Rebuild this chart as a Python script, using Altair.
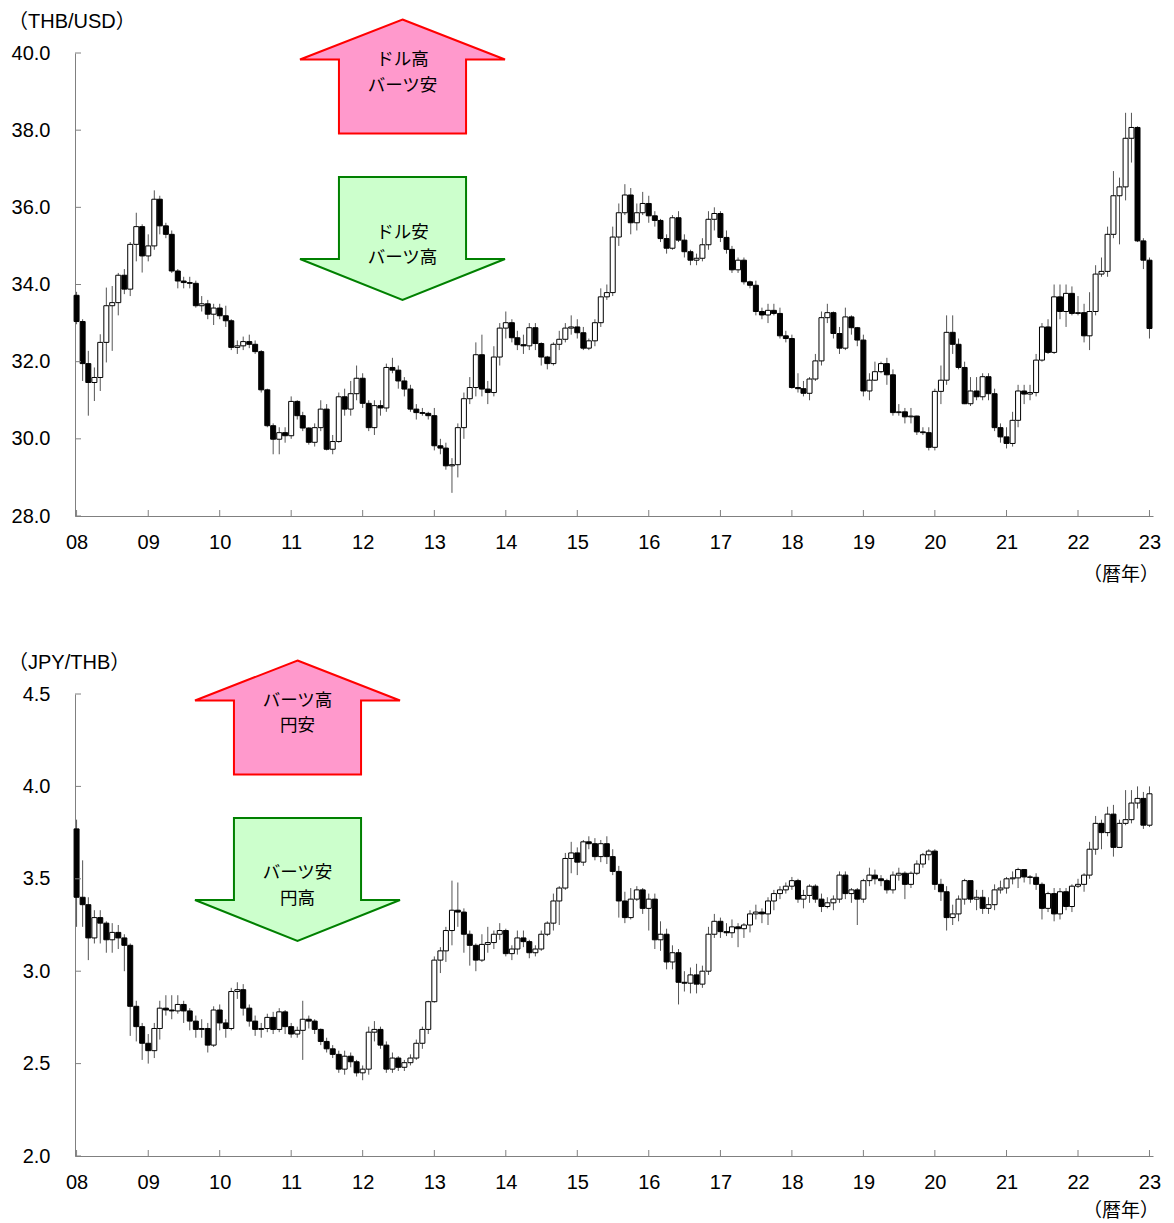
import altair as alt
import pandas as pd

# ---------------- data (monthly candles, Jan 2008 - Jan 2023) ----------------
YEARS = list(range(2008, 2024))

THB_OPEN0 = 33.72
THB_CLOSE = [
    33.04, 31.95, 31.46, 31.59, 32.50, 33.45, 33.53, 34.24, 33.88, 35.04, 35.50, 34.74,
    35.00, 36.21, 35.52, 35.30, 34.35, 34.09, 34.05, 34.03, 33.45, 33.50, 33.23, 33.39,
    33.19, 33.06, 32.37, 32.41, 32.52, 32.45, 32.26, 31.27, 30.34, 29.99, 30.16, 30.08,
    30.97, 30.60, 30.28, 29.91, 30.29, 30.77, 29.73, 29.93, 31.09, 30.77, 31.17, 31.57,
    30.92, 30.29, 30.86, 30.80, 31.85, 31.78, 31.50, 31.29, 30.77, 30.68, 30.66, 30.60,
    29.82, 29.76, 29.30, 29.33, 30.29, 31.04, 31.33, 32.18, 31.29, 31.20, 32.12, 32.87,
    33.01, 32.62, 32.44, 32.41, 32.88, 32.47, 32.12, 31.95, 32.45, 32.58, 32.87, 32.90,
    32.75, 32.35, 32.54, 33.01, 33.68, 33.79, 35.23, 35.86, 36.32, 35.60, 35.86, 36.10,
    35.78, 35.66, 35.19, 34.94, 35.73, 35.15, 34.85, 34.63, 34.68, 35.03, 35.69, 35.84,
    35.22, 34.91, 34.38, 34.63, 34.07, 33.98, 33.30, 33.21, 33.33, 33.25, 32.67, 32.60,
    31.33, 31.30, 31.18, 31.55, 32.02, 33.14, 33.27, 32.73, 32.35, 33.16, 32.88, 32.56,
    31.24, 31.52, 31.74, 31.95, 31.66, 30.68, 30.70, 30.57, 30.59, 30.18, 30.16, 29.78,
    31.23, 31.52, 32.76, 32.45, 31.85, 30.91, 31.24, 31.09, 31.61, 31.17, 30.29, 30.05,
    29.88, 30.48, 31.24, 31.16, 31.20, 32.04, 32.90, 32.24, 33.68, 33.30, 33.77, 33.25,
    33.27, 32.67, 33.30, 34.27, 34.34, 35.30, 36.30, 36.53, 37.79, 38.07, 35.13, 34.63,
    32.86,
]
THB_HIGH = [
    33.81, 33.10, 32.28, 31.85, 32.71, 33.92, 33.96, 34.30, 34.40, 35.10, 35.86, 35.56,
    35.30, 36.44, 36.30, 35.60, 35.40, 34.40, 34.20, 34.20, 34.10, 33.70, 33.60, 33.50,
    33.50, 33.45, 33.10, 32.55, 32.65, 32.70, 32.55, 32.30, 31.30, 30.40, 30.30, 30.30,
    31.10, 31.00, 30.70, 30.30, 30.40, 31.00, 30.90, 30.10, 31.20, 31.30, 31.50, 31.90,
    31.70, 31.00, 31.00, 31.00, 31.95, 32.10, 31.90, 31.60, 31.40, 30.90, 30.80, 30.70,
    30.80, 30.00, 29.90, 29.50, 30.40, 31.20, 31.60, 32.50, 32.70, 31.50, 32.40, 33.00,
    33.30, 33.10, 32.80, 32.70, 33.00, 33.00, 32.50, 32.15, 32.50, 32.80, 33.00, 33.20,
    33.10, 32.90, 32.60, 33.10, 33.90, 34.00, 35.50, 36.10, 36.60, 36.50, 36.10, 36.40,
    36.30, 35.90, 35.70, 35.30, 35.80, 35.90, 35.30, 34.90, 34.80, 35.20, 35.90, 36.00,
    35.90, 35.40, 35.00, 34.70, 34.70, 34.10, 34.10, 33.40, 33.50, 33.50, 33.40, 32.80,
    32.70, 31.70, 31.50, 31.60, 32.20, 33.30, 33.50, 33.30, 32.90, 33.40, 33.20, 32.90,
    32.70, 31.70, 32.00, 32.00, 32.10, 31.80, 30.90, 30.80, 30.80, 30.60, 30.30, 30.30,
    31.30, 31.90, 33.20, 33.20, 32.60, 32.00, 31.60, 31.60, 31.70, 31.70, 31.30, 30.40,
    30.30, 30.70, 31.40, 31.40, 31.40, 32.20, 33.00, 33.10, 34.00, 34.00, 34.00, 33.95,
    33.70, 33.50, 33.80, 34.50, 34.70, 35.50, 36.94, 36.77, 38.45, 38.45, 38.10, 35.20,
    34.70,
]
THB_LOW = [
    32.97, 31.50, 30.60, 30.98, 31.24, 31.98, 32.28, 33.20, 33.75, 33.70, 34.60, 34.31,
    34.60, 34.90, 35.30, 35.20, 34.30, 33.90, 33.90, 33.90, 33.40, 33.30, 33.10, 32.95,
    33.10, 32.90, 32.30, 32.20, 32.30, 32.35, 32.20, 31.20, 30.30, 29.60, 29.60, 29.90,
    30.00, 30.50, 30.20, 29.85, 29.80, 30.20, 29.70, 29.60, 29.90, 30.60, 30.60, 31.00,
    30.80, 30.20, 30.10, 30.60, 30.70, 31.70, 31.30, 31.10, 30.70, 30.50, 30.60, 30.50,
    29.70, 29.60, 29.20, 28.60, 29.00, 30.00, 30.90, 31.10, 31.10, 30.90, 31.10, 31.90,
    32.60, 32.50, 32.30, 32.20, 32.30, 32.30, 31.90, 31.80, 31.90, 32.30, 32.50, 32.70,
    32.60, 32.30, 32.30, 32.40, 32.90, 33.60, 33.70, 35.00, 35.80, 35.30, 35.40, 35.80,
    35.60, 35.50, 35.10, 34.80, 34.90, 35.10, 34.70, 34.50, 34.50, 34.60, 34.90, 35.40,
    35.10, 34.80, 34.30, 34.30, 34.00, 33.90, 33.20, 33.10, 33.00, 33.20, 32.60, 32.50,
    31.30, 31.20, 31.10, 31.00, 31.50, 31.90, 33.00, 32.60, 32.20, 32.30, 32.70, 32.40,
    31.10, 31.00, 31.50, 31.70, 31.40, 30.60, 30.60, 30.40, 30.40, 30.10, 30.10, 29.70,
    29.70, 30.90, 31.40, 32.20, 31.80, 30.90, 30.85, 31.00, 31.00, 31.00, 30.20, 29.90,
    29.75, 29.80, 30.30, 30.90, 31.00, 31.10, 32.00, 32.20, 32.20, 33.10, 32.90, 33.20,
    33.20, 32.50, 32.30, 33.20, 34.20, 34.20, 35.20, 35.04, 36.18, 37.16, 35.10, 34.40,
    32.60,
]

JPY_OPEN0 = 3.77
JPY_CLOSE = [
    3.40, 3.36, 3.18, 3.29, 3.26, 3.17, 3.21, 3.18, 3.14, 2.81, 2.70, 2.61,
    2.57, 2.69, 2.80, 2.79, 2.785, 2.82, 2.785, 2.73, 2.685, 2.69, 2.60, 2.79,
    2.72, 2.69, 2.89, 2.90, 2.80, 2.73, 2.685, 2.69, 2.75, 2.685, 2.78, 2.70,
    2.66, 2.68, 2.74, 2.73, 2.685, 2.62, 2.58, 2.55, 2.47, 2.54, 2.51, 2.45,
    2.47, 2.67, 2.685, 2.60, 2.47, 2.53, 2.48, 2.505, 2.53, 2.61, 2.685, 2.835,
    3.06, 3.11, 3.22, 3.33, 3.32, 3.20, 3.14, 3.06, 3.145, 3.155, 3.20, 3.22,
    3.095, 3.12, 3.18, 3.16, 3.10, 3.12, 3.20, 3.26, 3.38, 3.45, 3.61, 3.64,
    3.59, 3.70, 3.69, 3.62, 3.69, 3.62, 3.54, 3.38, 3.29, 3.39, 3.44, 3.34,
    3.39, 3.17, 3.20, 3.05, 3.10, 2.94, 2.935, 2.98, 2.93, 3.00, 3.20, 3.27,
    3.214, 3.208, 3.24, 3.23, 3.25, 3.31, 3.32, 3.31, 3.38, 3.42, 3.44, 3.46,
    3.49, 3.39, 3.41, 3.46, 3.39, 3.35, 3.37, 3.39, 3.52, 3.42, 3.44, 3.39,
    3.49, 3.52, 3.50, 3.49, 3.44, 3.52, 3.53, 3.47, 3.53, 3.58, 3.63, 3.65,
    3.47, 3.43, 3.29, 3.31, 3.39, 3.49, 3.39, 3.40, 3.34, 3.36, 3.44, 3.45,
    3.50, 3.505, 3.55, 3.51, 3.508, 3.47, 3.34, 3.42, 3.31, 3.43, 3.35, 3.46,
    3.47, 3.52, 3.66, 3.80, 3.75, 3.85, 3.67, 3.80, 3.82, 3.91, 3.935, 3.79,
    3.96,
]
JPY_HIGH = [
    3.82, 3.60, 3.40, 3.33, 3.33, 3.27, 3.26, 3.25, 3.20, 3.15, 2.84, 2.72,
    2.66, 2.72, 2.84, 2.87, 2.87, 2.87, 2.84, 2.80, 2.76, 2.74, 2.72, 2.81,
    2.82, 2.74, 2.91, 2.94, 2.93, 2.82, 2.76, 2.72, 2.77, 2.78, 2.80, 2.79,
    2.72, 2.70, 2.84, 2.76, 2.74, 2.69, 2.64, 2.60, 2.57, 2.57, 2.56, 2.52,
    2.49, 2.70, 2.73, 2.70, 2.62, 2.56, 2.54, 2.52, 2.55, 2.63, 2.70, 2.84,
    3.08, 3.13, 3.24, 3.49, 3.48, 3.34, 3.22, 3.15, 3.20, 3.24, 3.22, 3.26,
    3.23, 3.14, 3.22, 3.22, 3.17, 3.14, 3.22, 3.27, 3.42, 3.46, 3.64, 3.70,
    3.67, 3.71, 3.73, 3.72, 3.71, 3.73, 3.66, 3.57, 3.43, 3.45, 3.46, 3.45,
    3.42, 3.42, 3.27, 3.23, 3.14, 3.12, 3.00, 3.02, 3.04, 3.03, 3.24, 3.31,
    3.29, 3.26, 3.28, 3.26, 3.26, 3.33, 3.36, 3.34, 3.40, 3.44, 3.46, 3.48,
    3.51, 3.50, 3.44, 3.47, 3.47, 3.42, 3.40, 3.41, 3.54, 3.54, 3.45, 3.45,
    3.50, 3.56, 3.55, 3.52, 3.50, 3.54, 3.56, 3.54, 3.54, 3.60, 3.64, 3.66,
    3.66, 3.50, 3.46, 3.36, 3.41, 3.50, 3.49, 3.44, 3.44, 3.40, 3.47, 3.49,
    3.51, 3.54, 3.56, 3.55, 3.52, 3.53, 3.48, 3.43, 3.45, 3.45, 3.45, 3.47,
    3.50, 3.53, 3.70, 3.84, 3.82, 3.89, 3.90, 3.82, 3.98, 3.98, 4.00, 3.97,
    4.00,
]
JPY_LOW = [
    3.24, 3.24, 3.06, 3.15, 3.15, 3.10, 3.10, 3.12, 3.00, 2.65, 2.62, 2.52,
    2.50, 2.53, 2.63, 2.76, 2.74, 2.77, 2.72, 2.68, 2.64, 2.64, 2.56, 2.59,
    2.68, 2.64, 2.68, 2.85, 2.76, 2.70, 2.65, 2.64, 2.67, 2.66, 2.67, 2.66,
    2.64, 2.64, 2.52, 2.69, 2.66, 2.60, 2.56, 2.53, 2.45, 2.44, 2.48, 2.43,
    2.41, 2.44, 2.62, 2.58, 2.45, 2.45, 2.46, 2.46, 2.49, 2.52, 2.58, 2.66,
    2.83, 2.99, 3.05, 3.14, 3.24, 3.10, 3.03, 3.00, 3.05, 3.10, 3.12, 3.17,
    3.08, 3.06, 3.09, 3.13, 3.07, 3.08, 3.11, 3.19, 3.22, 3.25, 3.44, 3.53,
    3.52, 3.57, 3.66, 3.60, 3.59, 3.58, 3.52, 3.29, 3.26, 3.28, 3.38, 3.31,
    3.22, 3.12, 3.11, 3.01, 3.01, 2.82, 2.89, 2.88, 2.88, 2.91, 2.98, 3.18,
    3.18, 3.19, 3.18, 3.13, 3.18, 3.21, 3.28, 3.26, 3.25, 3.33, 3.39, 3.42,
    3.44, 3.37, 3.34, 3.37, 3.37, 3.32, 3.34, 3.33, 3.37, 3.39, 3.37, 3.25,
    3.37, 3.46, 3.47, 3.46, 3.42, 3.42, 3.49, 3.39, 3.45, 3.52, 3.56, 3.60,
    3.44, 3.38, 3.22, 3.25, 3.27, 3.36, 3.37, 3.33, 3.31, 3.31, 3.33, 3.42,
    3.42, 3.47, 3.45, 3.48, 3.47, 3.44, 3.28, 3.32, 3.27, 3.28, 3.33, 3.32,
    3.45, 3.43, 3.50, 3.63, 3.66, 3.73, 3.62, 3.67, 3.79, 3.80, 3.88, 3.77,
    3.78,
]

THB_TICKS = [28.0, 30.0, 32.0, 34.0, 36.0, 38.0, 40.0]
JPY_TICKS = [2.0, 2.5, 3.0, 3.5, 4.0, 4.5]

MONTHS = pd.date_range("2008-01-01", periods=181, freq="MS")

LATIN = "Liberation Sans"
JP = "Noto Sans CJK JP"
MIX = "Liberation Sans, Noto Sans CJK JP"
W = 1078

UP_PATH = "M 0 -0.556 L 1 -0.166 L 0.62 -0.166 L 0.62 0.556 L -0.62 0.556 L -0.62 -0.166 L -1 -0.166 Z"
DOWN_PATH = "M -0.62 -0.6 L 0.62 -0.6 L 0.62 0.2 L 1 0.2 L 0 0.6 L -1 0.2 L -0.62 0.2 Z"


def candle_frame(open0, closes, highs, lows):
    n = min(len(closes), len(highs), len(lows), len(MONTHS))
    opens = [open0] + list(closes[: n - 1])
    return pd.DataFrame({
        "date": MONTHS[:n],
        "open": opens,
        "close": list(closes[:n]),
        "high": list(highs[:n]),
        "low": list(lows[:n]),
    })


def panel(df, domain, ticks, H, unit_label, arrow_x, up_lines, down_lines, unit_y,
          up_text_y, down_text_y):
    one = pd.DataFrame({"k": [0]})
    xscale = alt.Scale(domain=[alt.DateTime(year=2007, month=12, date=24),
                               alt.DateTime(year=2023, month=1, date=19)], padding=0)
    xaxis = alt.Axis(values=[alt.DateTime(year=y, month=1, date=1) for y in YEARS],
                     format="%y", title=None, ticks=False, tickSize=0, labelPadding=16,
                     labelFontSize=20, labelFont=LATIN, labelColor="black",
                     domainColor="#808080", grid=False, labelAngle=0)
    yscale = alt.Scale(domain=domain, nice=False, zero=False)
    yaxis = alt.Axis(values=ticks, format=".1f", title=None, ticks=False, tickSize=0,
                     labelPadding=25, labelFontSize=20, labelFont=LATIN, labelColor="black",
                     domainColor="#808080", grid=False)

    base = alt.Chart(df)
    wick = base.mark_rule(color="#555555", strokeWidth=1).encode(
        x=alt.X("date:T", scale=xscale, axis=xaxis),
        y=alt.Y("low:Q", scale=yscale, axis=yaxis),
        y2="high:Q",
    )
    body = base.mark_bar(size=5, stroke="black", strokeWidth=1).encode(
        x=alt.X("date:T", scale=xscale, axis=xaxis),
        y=alt.Y("open:Q", scale=yscale, axis=yaxis),
        y2="close:Q",
        fill=alt.condition("datum.close >= datum.open", alt.value("white"), alt.value("black")),
    )
    ytick = alt.Chart(pd.DataFrame({"v": ticks})).mark_rule(color="#808080").encode(
        y=alt.Y("v:Q", scale=yscale, axis=yaxis),
        x=alt.value(0), x2=alt.value(6),
    )
    xtick = alt.Chart(pd.DataFrame({"d": [pd.Timestamp(year=y, month=1, day=1) for y in YEARS]})).mark_rule(
        color="#808080").encode(
        x=alt.X("d:T", scale=xscale, axis=xaxis),
        y=alt.value(H), y2=alt.value(H - 6),
    )
    up_arrow = alt.Chart(one).mark_point(
        shape=UP_PATH, size=42025, filled=True, fill="#FF99CC", color="#FF99CC",
        stroke="#FF0000", strokeWidth=2, opacity=1,
    ).encode(x=alt.value(arrow_x), y=alt.value(23.5))
    down_arrow = alt.Chart(one).mark_point(
        shape=DOWN_PATH, size=42025, filled=True, fill="#CCFFCC", color="#CCFFCC",
        stroke="#008000", strokeWidth=2, opacity=1,
    ).encode(x=alt.value(arrow_x), y=alt.value(185.5))

    def txt(s, x, y, font=JP, align="center", size=19, lh=24):
        return alt.Chart(one).mark_text(
            text=s, font=font, fontSize=size, align=align, baseline="middle", color="black",
            lineHeight=lh,
        ).encode(x=alt.value(x), y=alt.value(y))

    layers = [wick, body, ytick, xtick, up_arrow, down_arrow,
              txt(list(up_lines), arrow_x, up_text_y, size=17.5, lh=25.5),
              txt(list(down_lines), arrow_x, down_text_y, size=17.5, lh=25.5),
              txt(unit_label, -67, -31, font=MIX, align="left", size=20),
              txt("（暦年）", 1046, unit_y, size=19)]
    return alt.layer(*layers).properties(width=W, height=H)


thb = candle_frame(THB_OPEN0, THB_CLOSE, THB_HIGH, THB_LOW)
jpy = candle_frame(JPY_OPEN0, JPY_CLOSE, JPY_HIGH, JPY_LOW)

top = panel(thb, [28, 40], THB_TICKS, 463, "（THB/USD）", 327.5,
            ["ドル高", "バーツ安"], ["ドル安", "バーツ高"], 522, 7, 179.75)
bottom = panel(jpy, [2.0, 4.5], JPY_TICKS, 462, "（JPY/THB）", 222.5,
               ["バーツ高", "円安"], ["バーツ安", "円高"], 517, 6.75, 179.25)

chart = alt.vconcat(top, bottom, spacing=178, bounds="flush").properties(
    padding={"left": 0, "top": 4, "right": 0, "bottom": 0}
).configure_view(stroke=None).configure_axis(grid=False)

chart.save("out.html", embed_options={"renderer": "svg", "actions": False})
